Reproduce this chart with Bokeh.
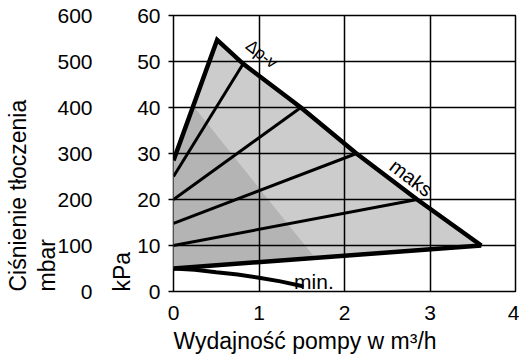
from bokeh.plotting import figure
from bokeh.models import Range1d, LinearAxis, FixedTicker, Title
from bokeh.core.properties import value
from bokeh.embed import file_html
from bokeh.resources import INLINE

FONT = "Liberation Sans"

# axes ticks
x_ticks = [0, 1, 2, 3, 4]
kpa_ticks = [0, 10, 20, 30, 40, 50, 60]
mbar_ticks = [0, 100, 200, 300, 400, 500, 600]

# maks (Δp-v) curve: apex down to the right end
maks_x = [0.51, 0.815, 1.49, 2.14, 2.85, 3.6]
maks_y = [54.7, 49.5, 40.0, 30.0, 20.0, 10.0]
# left edge of the field
edge_x = [0.0, 0.51]
edge_y = [28.5, 54.7]
# lower edge of the field
bottom_x = [0.0, 3.6]
bottom_y = [5.0, 10.0]
# intermediate characteristics (start at x=0, end on maks curve)
branch_start_y = [25.0, 20.0, 14.8, 10.0]
branch_end_x = [0.815, 1.49, 2.14, 2.85]
branch_end_y = [49.5, 40.0, 30.0, 20.0]
# min curve
min_x = [0.0, 0.25, 0.5, 0.75, 1.0, 1.25, 1.5]
min_y = [5.0, 4.75, 4.2, 3.7, 3.0, 2.2, 1.2]
# darker shaded zone
dark_x = [0.0, 0.0, 0.237, 1.66]
dark_y = [5.0, 28.5, 40.2, 7.2]

p = figure(width=519, height=356, x_range=Range1d(0, 4), y_range=Range1d(0, 60),
           output_backend="svg", toolbar_location=None,
           min_border_top=15, min_border_right=4, min_border_left=173, min_border_bottom=65)
p.extra_y_ranges = {"mbar": Range1d(0, 600)}

# fills
light_x = edge_x + maks_x[1:] + bottom_x[::-1]
light_y = edge_y + maks_y[1:] + bottom_y[::-1]
p.patch(light_x, light_y, fill_color="#cccccc", line_color=None)
p.patch(dark_x, dark_y, fill_color="#b4b4b4", line_color=None)

# lines
for sy, ex, ey in zip(branch_start_y, branch_end_x, branch_end_y):
    p.line([0.0, ex], [sy, ey], line_color="black", line_width=3)
p.line(edge_x + maks_x[1:], edge_y + maks_y[1:], line_color="black", line_width=4.5, line_join="miter")
p.line(bottom_x, bottom_y, line_color="black", line_width=4.5)
p.line(min_x, min_y, line_color="black", line_width=4, line_cap="round")

# curve labels
p.text(x=[1.03], y=[51.6], text=["Δp-v"], angle=-0.66, text_font=value(FONT),
       text_font_size="17px", text_align="center", text_baseline="middle", text_color="black")
p.text(x=[2.78], y=[24.7], text=["maks"], angle=-0.65, text_font=value(FONT),
       text_font_size="20px", text_align="center", text_baseline="middle", text_color="black")
p.text(x=[1.41], y=[2.2], text=["min."], text_font=value(FONT),
       text_font_size="21px", text_align="left", text_baseline="alphabetic", text_color="black")

# frame and grid
p.outline_line_color = "black"
p.outline_line_width = 1.5
p.outline_line_alpha = 1
p.xgrid.ticker = FixedTicker(ticks=x_ticks)
p.ygrid.ticker = FixedTicker(ticks=kpa_ticks)
p.grid.grid_line_color = "black"
p.grid.grid_line_width = 1.5
p.grid.grid_line_alpha = 1
p.grid.level = "overlay"

# x axis
xa = p.xaxis[0]
xa.ticker = FixedTicker(ticks=x_ticks)
xa.major_tick_out = 0
xa.major_tick_in = 0
xa.minor_tick_line_color = None
xa.axis_line_color = None
xa.major_label_standoff = 14
xa.major_label_text_font = FONT
xa.major_label_text_font_size = "21px"
xa.major_label_text_color = "black"

# kPa axis
ya = p.yaxis[0]
ya.ticker = FixedTicker(ticks=kpa_ticks)
ya.major_tick_out = 5
ya.major_tick_in = 0
ya.major_tick_line_color = "black"
ya.major_tick_line_width = 1.5
ya.minor_tick_line_color = None
ya.axis_line_color = None
ya.major_label_standoff = 8
ya.major_label_text_font = FONT
ya.major_label_text_font_size = "21px"
ya.major_label_text_color = "black"


def title(text, standoff=0, line_height=1.0):
    return Title(text=text, align="left", text_font=FONT, text_font_size="23px",
                 text_font_style="normal", text_color="black", standoff=standoff,
                 offset=0, text_line_height=line_height)


# axis titles, start-aligned as in the original
p.add_layout(title("Wydajność pompy w m³/h", standoff=6), "below")
p.add_layout(title("kPa"), "left")

# mbar axis
ma = LinearAxis(y_range_name="mbar", ticker=FixedTicker(ticks=mbar_ticks))
ma.major_tick_out = 0
ma.major_tick_in = 0
ma.minor_tick_line_color = None
ma.axis_line_color = None
ma.major_label_standoff = 14
ma.major_label_text_font = FONT
ma.major_label_text_font_size = "21px"
ma.major_label_text_color = "black"
p.add_layout(ma, "left")

p.add_layout(title("Ciśnienie tłoczenia\nmbar", standoff=-12, line_height=1.12), "left")

open("out.html", "w").write(file_html(p, INLINE))
